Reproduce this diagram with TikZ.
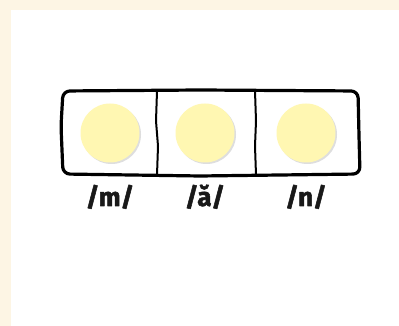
\documentclass[tikz,border=0pt]{standalone}
\usepackage{fontspec}
\setsansfont{Fira Sans}[BoldFeatures={FakeBold=2}]
\definecolor{cream}{RGB}{253,245,228}
\definecolor{dotyellow}{RGB}{255,247,178}
\definecolor{dotshadow}{RGB}{200,200,200}
\tikzset{
    dot/.style={circle, fill=dotyellow, minimum size=59pt, inner sep=0pt},
    dotshade/.style={circle, fill=dotshadow, opacity=.6, minimum size=59pt, inner sep=0pt},
    sound/.style={font=\sffamily\bfseries\fontsize{26}{28}\selectfont, text=black!90, anchor=base, inner sep=0pt},
    wall/.style={line width=2pt}
}
\begin{document}
\begin{tikzpicture}[x=1pt, y=1pt, line join=round, line cap=round]
            \def\xmin{0}\def\xmax{399}\def\ymin{0}\def\ymax{326}
            \useasboundingbox (\xmin,\ymin) rectangle (\xmax,\ymax);
            \fill[cream] (\xmin,\ymin) rectangle (\xmax,\ymax);
            \fill[white] (11,\ymin) rectangle (\xmax,316);
            % the three boxes
            \draw[line width=3.2pt, rounded corners=7pt] (63,152) -- (61,200) -- (63,235) -- (200,236) -- (358,235) -- (359,190) -- (360,152) -- (200,150) -- cycle;
            \draw[wall] (157,235) -- (156,205) -- (158,180) -- (157,151);
            \draw[wall] (255,235) -- (256,205) -- (255,180) -- (256,151);
            \foreach \x/\t/\n in {110/m/m, 205/\u{a}/a, 306/n/n} {
                \node[dotshade] at (\x+1.5,191.5) {};
                \node[dot] (dot\n) at (\x,193) {};
                \node[sound] (sound\n) at (\x,120) {/\t/};
            }
        \end{tikzpicture}
\end{document}
